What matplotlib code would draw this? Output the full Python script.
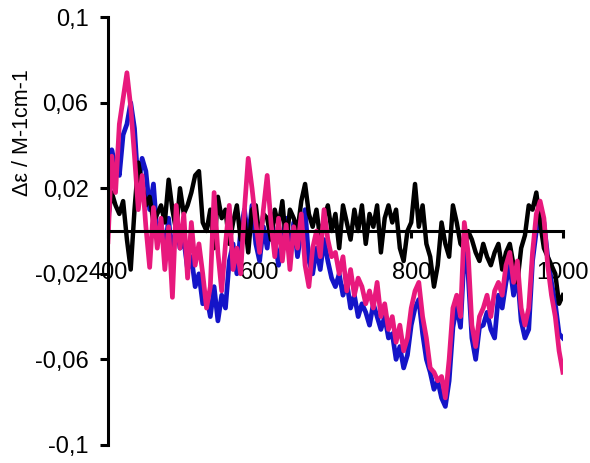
import numpy as np
import matplotlib.pyplot as plt

plt.rcParams['font.family'] = ['Liberation Sans', 'DejaVu Sans']

wavelength = np.arange(400, 1001, 5)

# black trace
black = [0.006, 0.018, 0.012, 0.008, 0.014, -0.004, -0.018, 0.01, 0.032, 0.022,
         0.012, 0.016, 0.004, 0.008, 0.012, 0.004, 0.024, 0.01, 0.0, 0.02,
         0.008, 0.012, 0.018, 0.026, 0.028, 0.004, 0.0, 0.01, -0.008, 0.016,
         0.006, 0.01, -0.006, 0.004, 0.012, -0.004, 0.006, -0.01, 0.01, 0.012,
         -0.004, 0.008, 0.006, -0.004, 0.01, 0.002, 0.014, -0.006, 0.01, 0.006,
         0.0, 0.014, 0.022, 0.008, 0.002, 0.01, -0.004, 0.006, 0.012, 0.0,
         0.008, -0.008, 0.012, 0.004, -0.004, 0.01, 0.0, 0.012, -0.006, 0.008,
         0.002, 0.012, -0.01, 0.006, 0.012, 0.004, 0.01, -0.008, -0.014, 0.0,
         0.004, 0.022, 0.002, 0.012, -0.006, -0.012, -0.026, -0.016, 0.004, -0.006,
         -0.012, 0.012, 0.004, -0.006, -0.008, 0.0, -0.004, -0.01, -0.014, -0.006,
         -0.012, -0.016, -0.01, -0.006, -0.018, -0.01, -0.006, -0.016, -0.024, -0.008,
         -0.002, 0.012, 0.01, 0.018, 0.004, -0.008, -0.012, -0.016, -0.02, -0.034,
         -0.03]

# blue trace
blue = [0.0, 0.038, 0.03, 0.026, 0.045, 0.05, 0.06, 0.048, 0.02, 0.034,
        0.028, 0.01, 0.022, -0.002, 0.004, -0.01, 0.006, -0.014, 0.004, -0.008,
        -0.004, -0.018, -0.012, -0.026, -0.02, -0.034, -0.03, -0.04, -0.026, -0.042,
        -0.03, -0.036, -0.014, -0.006, -0.02, 0.0, 0.01, -0.004, 0.012, -0.006,
        -0.014, 0.002, -0.008, 0.008, -0.004, -0.016, -0.004, 0.006, -0.01, 0.004,
        -0.012, 0.0, 0.01, -0.014, -0.02, -0.008, -0.018, -0.004, -0.014, -0.022,
        -0.026, -0.02, -0.03, -0.024, -0.036, -0.03, -0.04, -0.034, -0.038, -0.044,
        -0.034, -0.04, -0.046, -0.04, -0.05, -0.048, -0.06, -0.054, -0.064, -0.058,
        -0.044, -0.036, -0.032, -0.048, -0.06, -0.066, -0.074, -0.07, -0.078, -0.082,
        -0.07, -0.045, -0.035, -0.045, -0.01, -0.02, -0.05, -0.06, -0.045, -0.044,
        -0.038, -0.046, -0.05, -0.03, -0.036, -0.024, -0.016, -0.03, -0.02, -0.042,
        -0.05, -0.046, -0.014, 0.0, 0.01, 0.004, -0.012, -0.024, -0.034, -0.048,
        -0.05]

# pink trace
pink = [-0.005, 0.035, 0.018, 0.05, 0.062, 0.074, 0.058, 0.035, 0.01, 0.026,
        0.002, -0.017, 0.011, -0.008, 0.006, -0.018, 0.002, -0.031, 0.012, -0.008,
        0.008, -0.022, 0.004, -0.016, -0.006, -0.02, -0.036, -0.026, 0.018, -0.01,
        -0.028, -0.006, 0.012, -0.018, -0.008, -0.02, 0.01, 0.034, 0.02, 0.004,
        -0.01, 0.01, 0.026, 0.004, -0.012, 0.006, -0.014, 0.003, -0.018, 0.002,
        -0.008, 0.008, -0.016, -0.026, -0.008, 0.0, -0.012, 0.01, -0.004, -0.012,
        -0.01, -0.02, -0.012, -0.028, -0.018, -0.03, -0.022, -0.026, -0.034, -0.028,
        -0.036, -0.024, -0.04, -0.034, -0.046, -0.04, -0.052, -0.044, -0.056, -0.05,
        -0.036, -0.028, -0.024, -0.04, -0.05, -0.064, -0.066, -0.07, -0.068, -0.078,
        -0.06, -0.036, -0.03, -0.04, 0.004, -0.01, -0.044, -0.054, -0.04, -0.036,
        -0.03, -0.04, -0.028, -0.024, -0.03, -0.016, -0.01, -0.024, -0.014, -0.036,
        -0.044, -0.036, -0.01, 0.008, 0.014, 0.006, -0.016, -0.03, -0.04, -0.056,
        -0.066]

yticks = [-0.1, -0.06, -0.02, 0.02, 0.06, 0.1]
ylabels = ['-0,1', '-0,06', '-0,02', '0,02', '0,06', '0,1']
xticks = [400, 600, 800, 1000]

fig = plt.figure(figsize=(5.9, 4.63), dpi=100)
ax = fig.add_axes([0.183, 0.039, 0.771, 0.924])

ax.plot(wavelength, blue, color='#1414c8', lw=3.4)
ax.plot(wavelength, black, color='black', lw=3.2)
ax.plot(wavelength, pink, color='#e8197d', lw=3.4)

ax.set_xlim(400, 1000)
ax.set_ylim(-0.1, 0.1)

# x axis sits on zero, only left spine otherwise
ax.spines['bottom'].set_position(('data', 0))
ax.spines['bottom'].set_linewidth(2.2)
ax.spines['left'].set_linewidth(2.2)
ax.spines['top'].set_visible(False)
ax.spines['right'].set_visible(False)

ax.set_yticks(yticks)
ax.set_yticklabels(ylabels)
ax.set_xticks(xticks)
ax.set_xticklabels([str(x) for x in xticks])
ax.tick_params(axis='y', direction='out', length=6, width=2.2, pad=8, labelsize=17)
ax.tick_params(axis='x', direction='out', length=5, width=2.2, pad=17, labelsize=17)

ax.set_ylabel('Δε / M-1cm-1', fontsize=15.5)
ax.yaxis.set_label_coords(-0.165, 0.73)

fig.savefig('out.png', dpi=100)
